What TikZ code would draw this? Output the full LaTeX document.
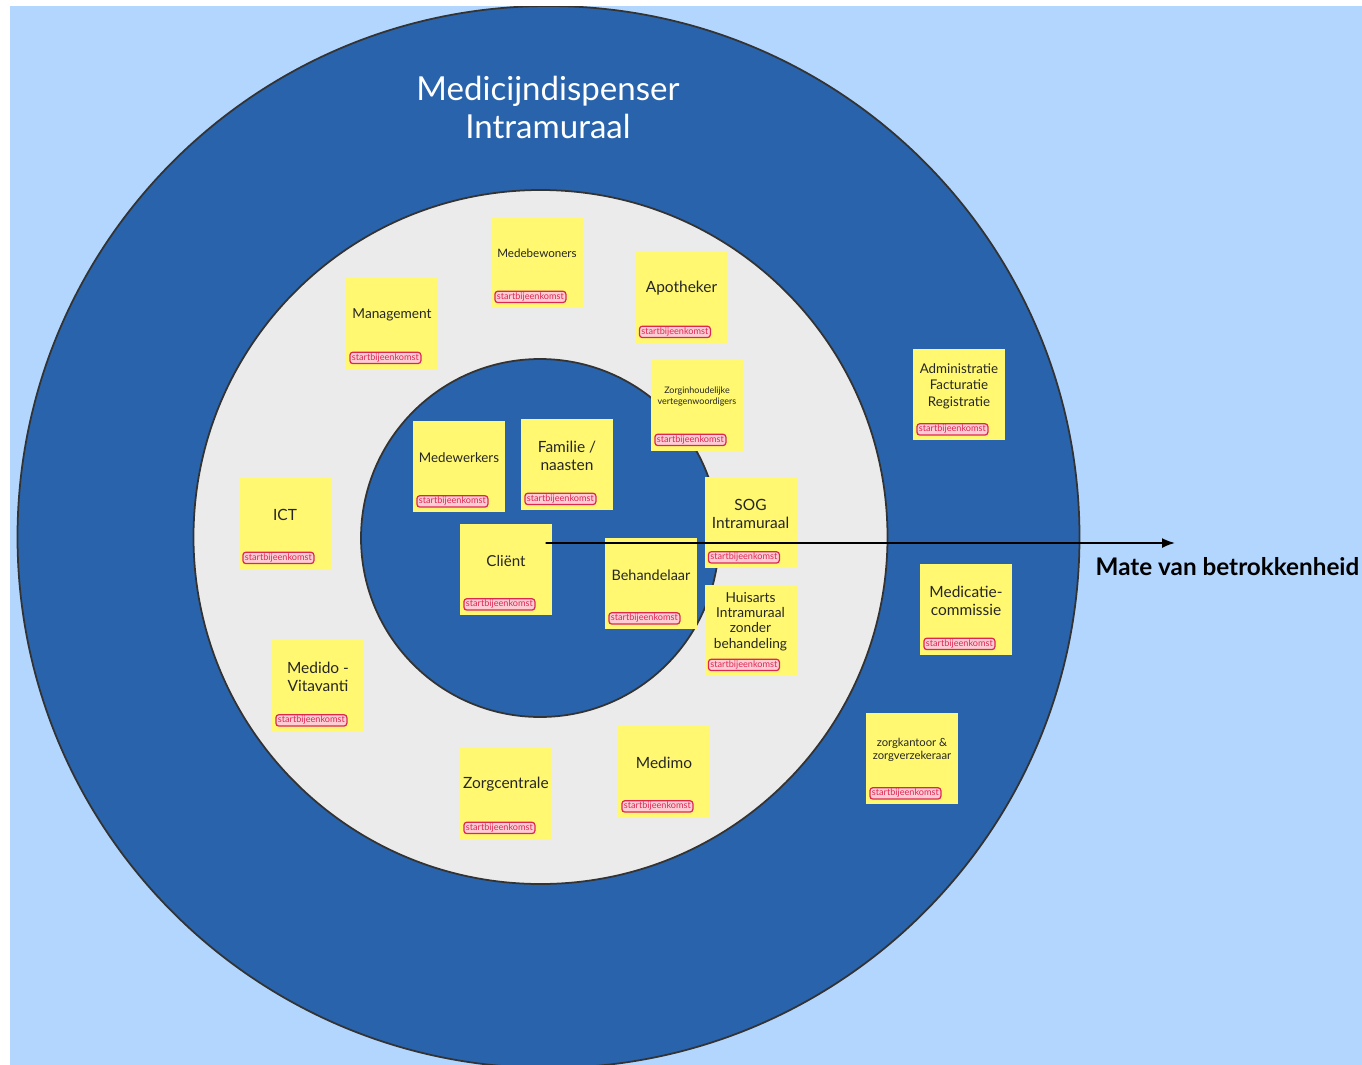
\documentclass[tikz,border=0pt]{standalone}
\usepackage{fontspec}
\setmainfont{Lato}
\usetikzlibrary{arrows.meta, positioning}

\definecolor{bgblue}{RGB}{179,214,254}
\definecolor{ringblue}{RGB}{40,99,171}
\definecolor{ringgray}{RGB}{235,235,235}
\definecolor{noteyellow}{RGB}{255,248,112}
\definecolor{tagpink}{RGB}{255,204,214}
\definecolor{tagred}{RGB}{220,40,80}

\begin{document}
\begin{tikzpicture}[
  every node/.style={font=\fontsize{4.3}{5}\selectfont},
  note/.style={rectangle, fill=noteyellow, minimum width=9.2mm, minimum height=9.1mm, inner sep=0pt},
  notetext/.style={align=center, inner sep=0pt, text=black!85},
  tag/.style={rectangle, rounded corners=0.3mm, draw=tagred, fill=tagpink, text=tagred, line width=0.35pt,
    minimum width=7.1mm, minimum height=1mm, inner sep=0.15mm, font=\fontsize{2.6}{2.8}\selectfont},
  arrow/.style={-{Latex[length=1.3mm, width=1mm]}, line width=0.5pt},
  ring/.style={draw=black!80, line width=0.5pt}
]
\useasboundingbox (0,0) rectangle (13.62,-10.65);
\fill[white] (0,0) rectangle (13.62,-10.65);

% Background and rings
\begin{scope}
  \clip (0.10,-0.06) rectangle (13.62,-10.65);
  \fill[bgblue] (0.10,-0.06) rectangle (13.62,-10.65);
  \filldraw[ring, fill=ringblue] (5.485,-5.37) circle (5.31);
\end{scope}
\filldraw[ring, fill=ringgray] (5.405,-5.37) circle (3.47);
\filldraw[ring, fill=ringblue] (5.40,-5.38) circle (1.79);

\node[text=white, align=center, font=\fontsize{9.4}{10.8}\selectfont] (title) at (5.48,-1.07) {Medicijndispenser\\Intramuraal};

% Sticky notes
\node[note] (medeb) at (5.37,-2.62) {};
\node[notetext, font=\fontsize{3.3}{4}\selectfont] (medeb-txt) at ([yshift=0.85mm]medeb) {Medebewoners};
\node[note] (apoth) at (6.815,-2.97) {};
\node[notetext, font=\fontsize{4.4}{5}\selectfont] (apoth-txt) at ([yshift=0.85mm]apoth) {Apotheker};
\node[note] (mgmt) at (3.92,-3.23) {};
\node[notetext, font=\fontsize{3.9}{4.5}\selectfont] (mgmt-txt) at ([yshift=0.85mm]mgmt) {Management};
\node[note] (zorgv) at (6.97,-4.05) {};
\node[notetext, font=\fontsize{2.55}{3.1}\selectfont] (zorgv-txt) at ([yshift=0.85mm]zorgv) {Zorginhoudelijke\\vertegenwoordigers};
\node[note] (admin) at (9.59,-3.945) {};
\node[notetext, font=\fontsize{3.8}{4.7}\selectfont] (admin-txt) at ([yshift=0.85mm]admin) {Administratie\\Facturatie\\Registratie};
\node[note] (medew) at (4.59,-4.665) {};
\node[notetext, font=\fontsize{3.8}{4.5}\selectfont] (medew-txt) at ([yshift=0.85mm]medew) {Medewerkers};
\node[note] (familie) at (5.67,-4.64) {};
\node[notetext, font=\fontsize{4.4}{5.1}\selectfont] (familie-txt) at ([yshift=0.85mm]familie) {Familie /\\naasten};
\node[note] (ict) at (2.85,-5.23) {};
\node[notetext, font=\fontsize{4.4}{5}\selectfont] (ict-txt) at ([yshift=0.85mm]ict) {ICT};
\node[note] (sog) at (7.505,-5.225) {};
\node[notetext, font=\fontsize{4.4}{5.1}\selectfont] (sog-txt) at ([yshift=0.85mm]sog) {SOG\\Intramuraal};
\node[note] (client) at (5.06,-5.695) {};
\node[notetext, font=\fontsize{4.3}{5}\selectfont] (client-txt) at ([yshift=0.85mm]client) {Cliënt};
\node[note] (behand) at (6.51,-5.835) {};
\node[notetext, font=\fontsize{4.1}{5}\selectfont] (behand-txt) at ([yshift=0.85mm]behand) {Behandelaar};
\node[note] (huisarts) at (7.505,-6.30) {};
\node[notetext, font=\fontsize{3.9}{4.35}\selectfont] (huisarts-txt) at ([yshift=0.85mm]huisarts) {Huisarts\\Intramuraal\\zonder\\behandeling};
\node[note] (medcom) at (9.66,-6.09) {};
\node[notetext, font=\fontsize{4.4}{5.1}\selectfont] (medcom-txt) at ([yshift=0.85mm]medcom) {Medicatie-\\commissie};
\node[note] (medido) at (3.18,-6.855) {};
\node[notetext, font=\fontsize{4.4}{5.1}\selectfont] (medido-txt) at ([yshift=0.85mm]medido) {Medido -\\Vitavanti};
\node[note] (zorgk) at (9.12,-7.585) {};
\node[notetext, font=\fontsize{3.2}{3.7}\selectfont] (zorgk-txt) at ([yshift=0.85mm]zorgk) {zorgkantoor \&\\zorgverzekeraar};
\node[note] (medimo) at (6.64,-7.715) {};
\node[notetext, font=\fontsize{4.4}{5}\selectfont] (medimo-txt) at ([yshift=0.85mm]medimo) {Medimo};
\node[note] (zorgc) at (5.06,-7.93) {};
\node[notetext, font=\fontsize{4.4}{5}\selectfont] (zorgc-txt) at ([yshift=0.85mm]zorgc) {Zorgcentrale};

% Tags at the bottom of every note
\foreach \n in {medeb, apoth, mgmt, zorgv, admin, medew, familie, ict, sog, client, behand, huisarts, medcom, medido, zorgk, medimo, zorgc}
  \node[tag, anchor=south west] (\n-tag) at ([shift={(0.04,0.05)}]\n.south west) {startbijeenkomst};

% Involvement axis
\coordinate (tip) at (11.75,-5.43);
\draw[arrow] ([shift={(-0.07,0.265)}]client.east) -- (tip);
\node[anchor=west, inner sep=0pt, font=\bfseries\fontsize{6.9}{7.5}\selectfont] (mate) at (10.95,-5.67) {Mate van betrokkenheid};

\end{tikzpicture}
\end{document}
